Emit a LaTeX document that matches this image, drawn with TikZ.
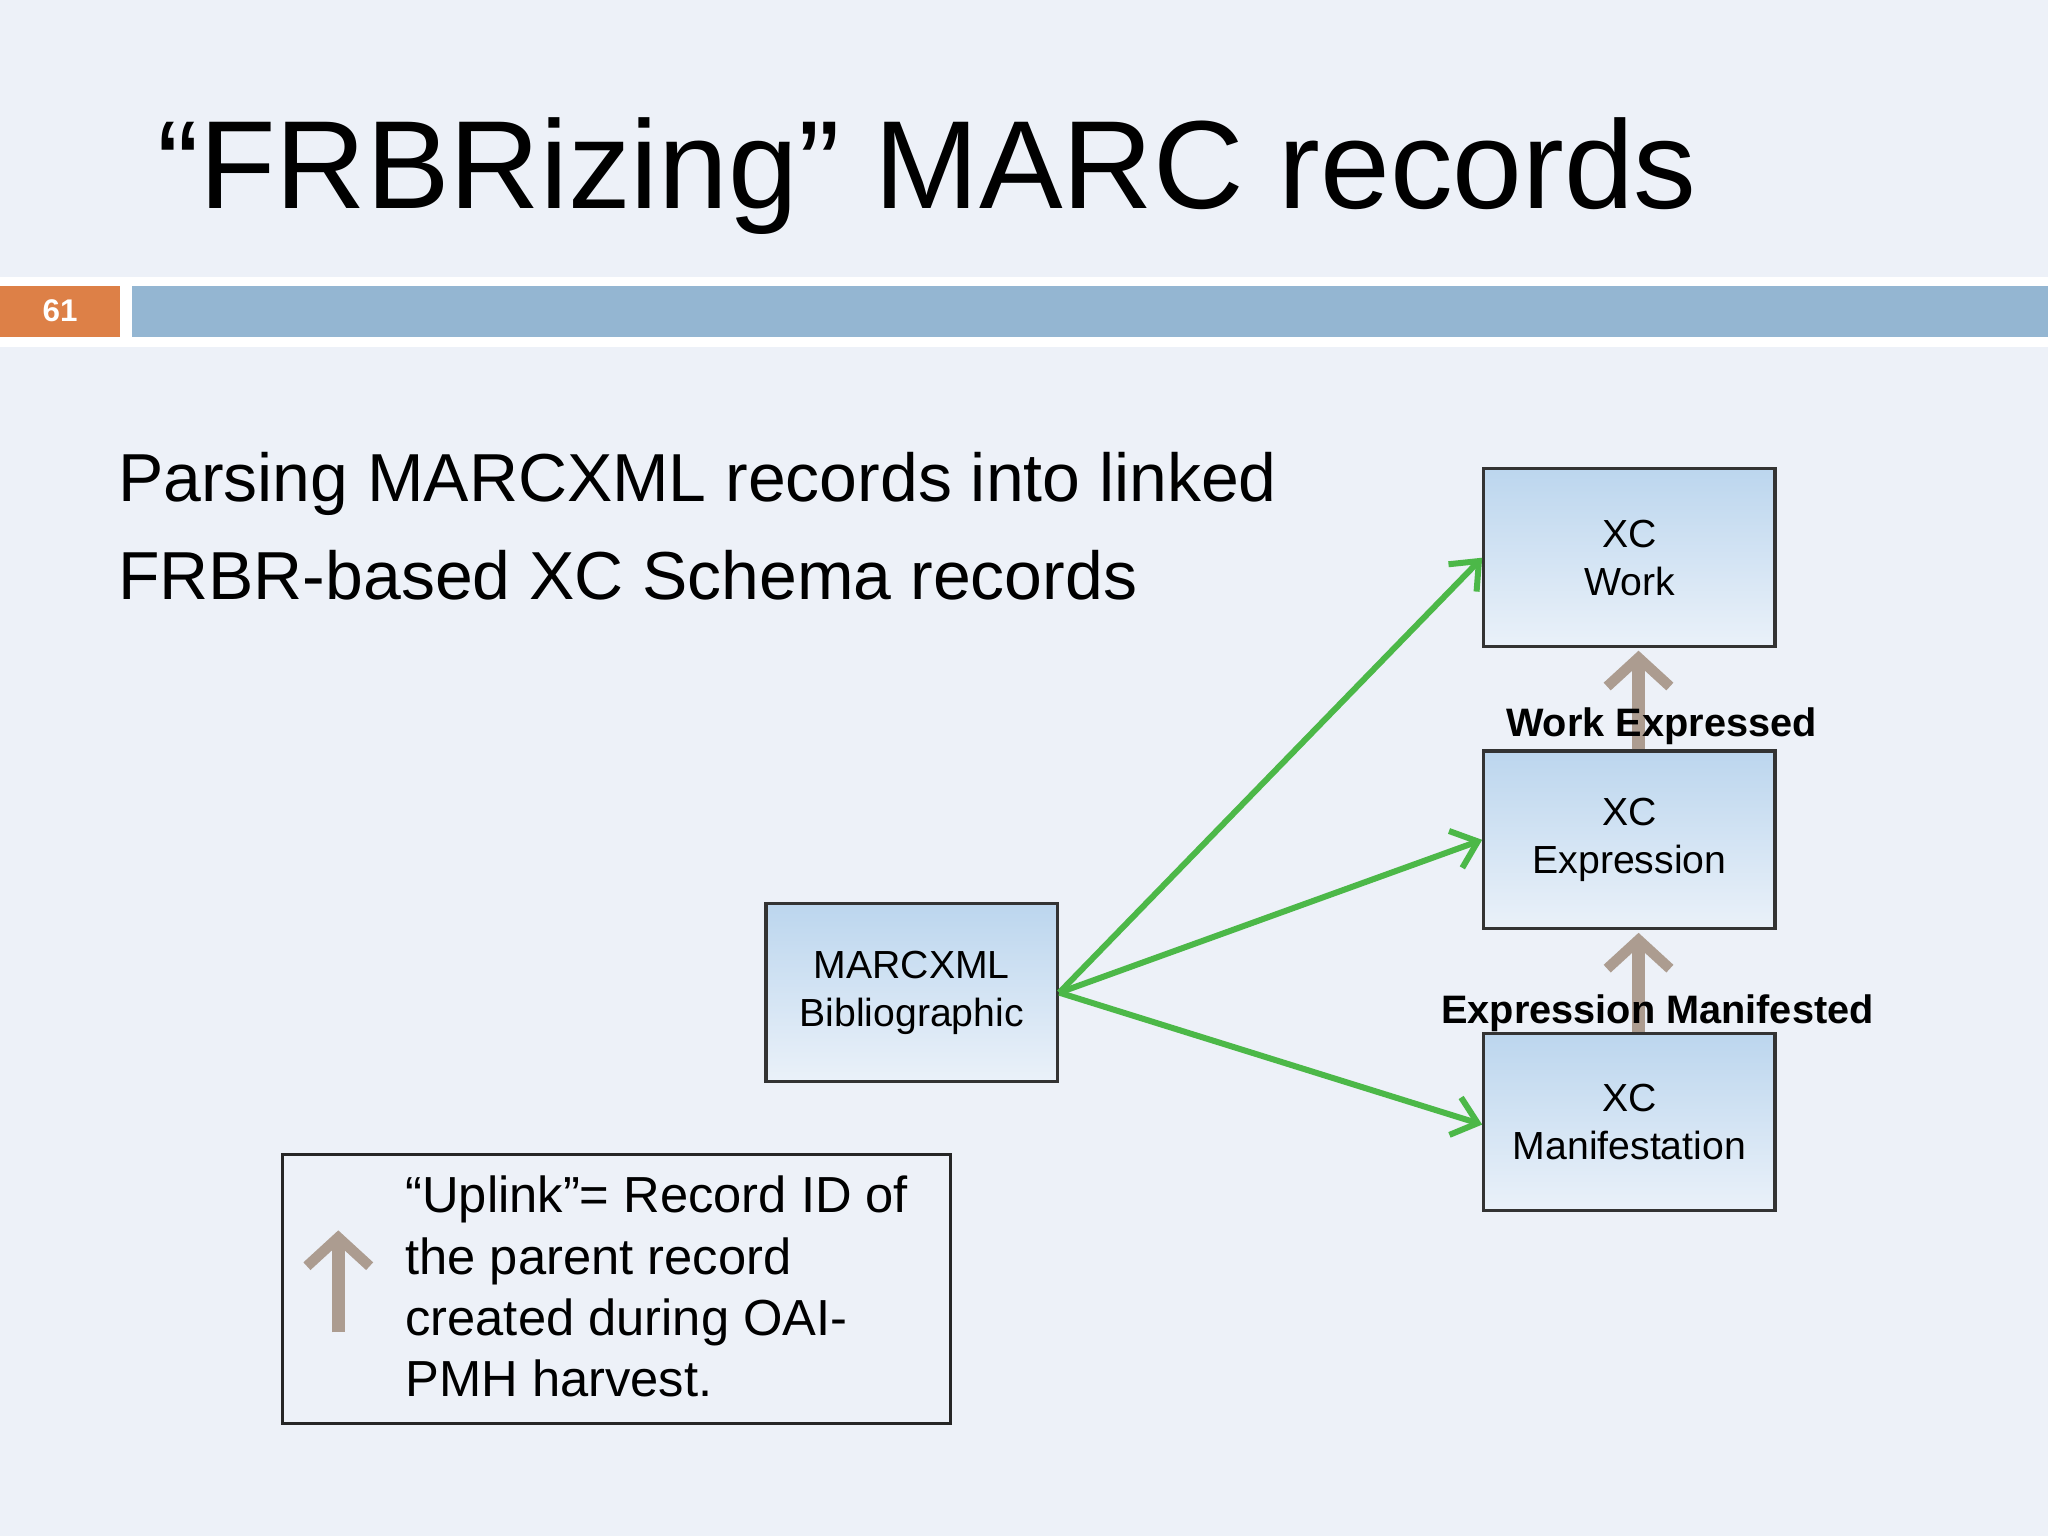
\documentclass[tikz,border=0pt]{standalone}
\usepackage{fontspec}
\setmainfont{Liberation Sans}
\usetikzlibrary{arrows.meta}
\definecolor{bg}{HTML}{EDF1F8}
\definecolor{bar}{HTML}{94B6D2}
\definecolor{orng}{HTML}{DD8047}
\definecolor{grn}{HTML}{4CB848}
\definecolor{brn}{HTML}{AC9C90}
\definecolor{btop}{HTML}{BCD6EE}
\definecolor{bbot}{HTML}{EAF1F9}
\tikzset{
 rec/.style={draw=black!80,line width=1.2pt,top color=btop,bottom color=bbot,minimum width=111.5pt,minimum height=68pt,align=center,font=\fontsize{15}{18.5}\selectfont,inner sep=0pt},
 garr/.style={draw=grn,line width=2.3pt,-{Straight Barb[length=9pt,width=15pt,line width=2.3pt]}},
 barr/.style={draw=brn,line width=5pt,-{Straight Barb[length=11pt,width=24pt,line width=4pt]}},
 lab/.style={font=\bfseries\fontsize{15.2}{17}\selectfont,inner sep=0pt}
}
\begin{document}
\begin{tikzpicture}[x=0.5pt,y=-0.5pt]
\fill[bg] (0,0) rectangle (1568,1176);
\useasboundingbox (0,0) rectangle (1568,1176);
\fill[white] (0,212) rectangle (1568,266);
\fill[orng] (0,219) rectangle (92,258);
\fill[bar] (101,219) rectangle (1568,258);
\node[font=\bfseries\fontsize{12}{14}\selectfont,text=white] (num) at (46,238) {61};
\node[anchor=base west,font=\fontsize{48}{56}\selectfont,inner sep=0pt] (title) at (120,160) {“FRBRizing” MARC records};
\node[anchor=base west,font=\fontsize{26}{38}\selectfont,inner sep=0pt,align=left] (sub) at (90,384) {Parsing MARCXML records into linked};
\node[anchor=base west,font=\fontsize{26}{38}\selectfont,inner sep=0pt,align=left] (sub2) at (90,459) {FRBR-based XC Schema records};
\node[rec] (work) at (1247.5,427) {XC\\Work};
\node[rec] (expr) at (1247.5,643) {XC\\Expression};
\node[rec] (man) at (1247.5,859) {XC\\Manifestation};
\node[rec] (marc) at (698,760) {MARCXML\\Bibliographic};
\coordinate (src) at (811,760);
\draw[garr] (src) -- (work.west);
\draw[garr] (src) -- (expr.west);
\draw[garr] (src) -- ([yshift=-1pt]man.west);
\draw[barr] ([xshift=3.5pt]expr.north) -- ([xshift=3.5pt,yshift=-1pt]work.south);
\draw[barr] ([xshift=3.5pt]man.north) -- ([xshift=3.5pt,yshift=-1pt]expr.south);
\node[lab] (l1) at (1272,556) {Work Expressed};
\node[lab] (l2) at (1269,776) {Expression Manifested};
\draw[line width=1.2pt,draw=black!85] (216,884) rectangle (728,1090);
\coordinate (a1) at (259,1020);
\coordinate (a2) at (259,942);
\draw[barr] (a1) -- (a2);
\node[anchor=north west,align=left,inner sep=0pt,font=\fontsize{19.4}{23.5}\selectfont] (leg) at (310,900) {“Uplink”= Record ID of\\the parent record\\created during OAI-\\PMH harvest.};
\end{tikzpicture}
\end{document}
